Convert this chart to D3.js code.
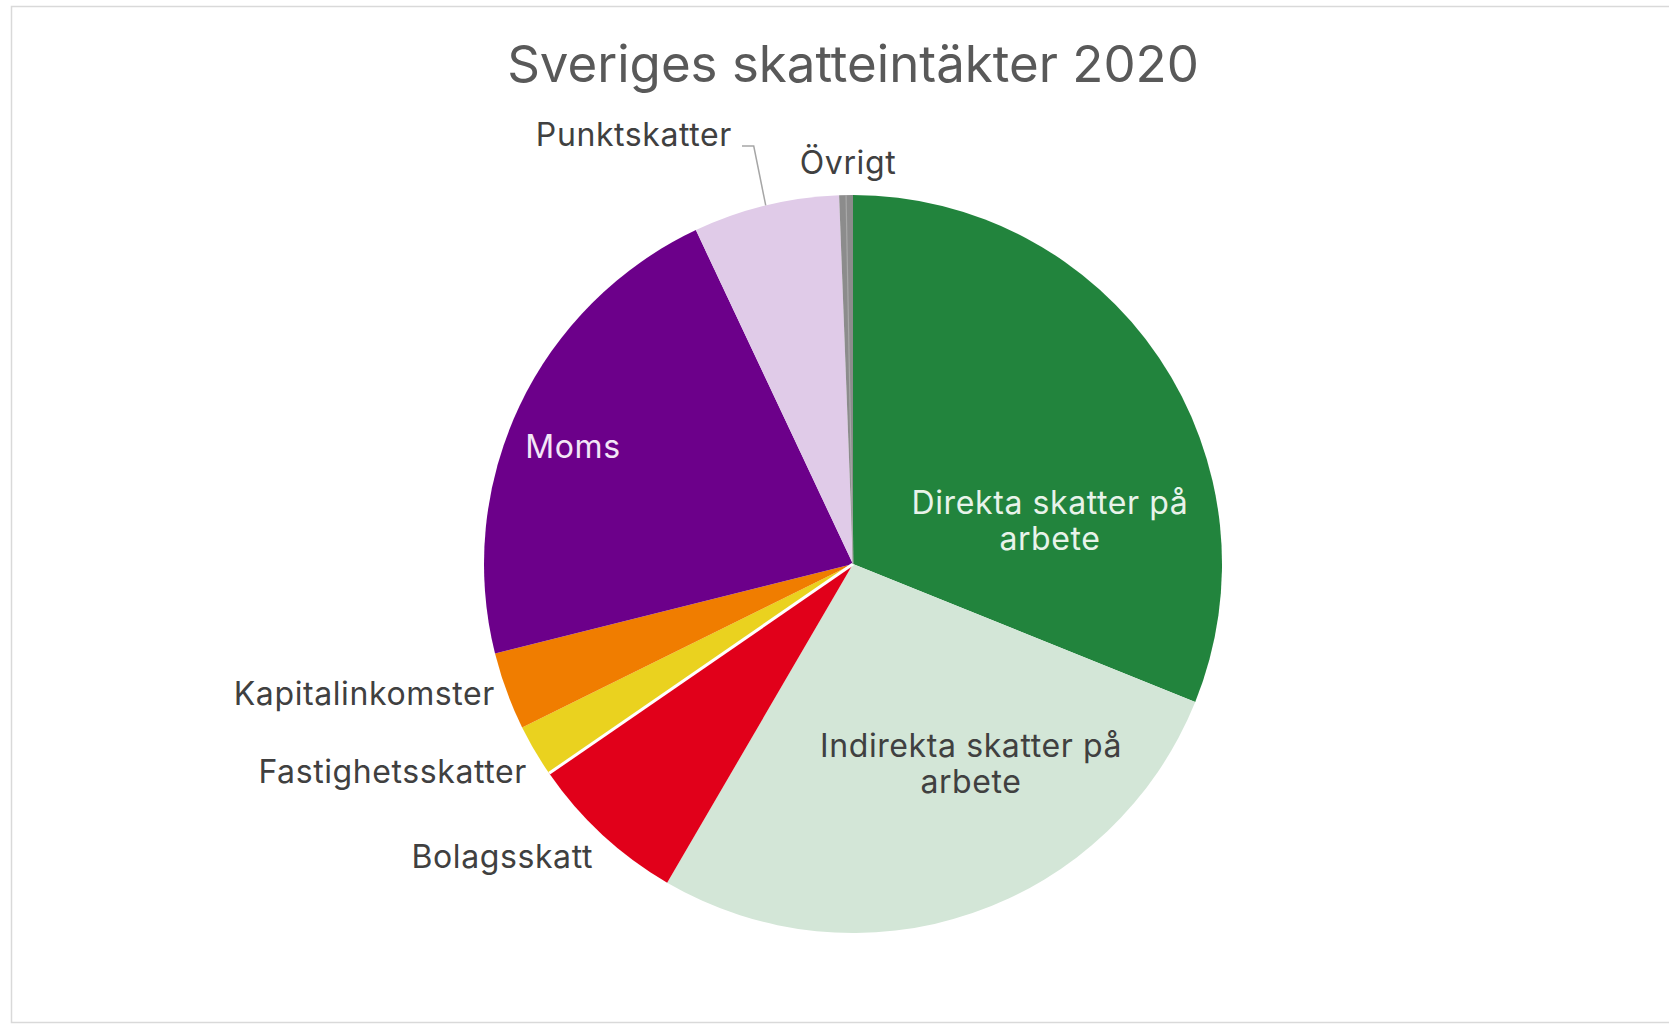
<!DOCTYPE html>
<html>

<head>
    <meta charset="utf-8">
    <script src="https://d3js.org/d3.v7.min.js"></script>
    <style>
        body { margin: 0; background: #fff; }
        text { font-family: Inter, "Noto Sans", sans-serif; }
    </style>
</head>

<body>
    <script>
        // Andel av skatteintäkterna (procent)
        let categories = ["Direkta skatter på arbete", "Indirekta skatter på arbete", "Bolagsskatt",
            "Fastighetsskatter", "Kapitalinkomster", "Moms", "Punktskatter", "Övrigt"];
        let values = [31.1, 27.3, 7.0, 2.3, 3.4, 21.9, 6.4, 0.6];
        let colors = ["#22843d", "#d3e6d7", "#e1001a", "#ead21f", "#f07d00", "#6c008a", "#e0cbe8", "#8c8c8c"];
        let labelLines = [["Direkta skatter på", "arbete"], ["Indirekta skatter på", "arbete"], ["Bolagsskatt"],
            ["Fastighetsskatter"], ["Kapitalinkomster"], ["Moms"], ["Punktskatter"], ["Övrigt"]];

        let width = 1669;
        let height = 1024;
        let cx = 853, cy = 564, radius = 369;

        // label placement relative to pie centre (text only)
        let labelLayout = [
            { dx: 197, dy: -50, anchor: "middle", fill: "#e8f3ea" },
            { dx: 118, dy: 193, anchor: "middle", fill: "#404040" },
            { dx: -260, dy: 304, anchor: "end", fill: "#404040" },
            { dx: -326, dy: 219, anchor: "end", fill: "#404040" },
            { dx: -358, dy: 141, anchor: "end", fill: "#404040" },
            { dx: -280, dy: -106, anchor: "middle", fill: "#f3e6f7" },
            { dx: -121, dy: -418, anchor: "end", fill: "#404040" },
            { dx: -5, dy: -390, anchor: "middle", fill: "#404040" }
        ];

        let svg = d3.select("body").append("svg")
            .attr("width", width)
            .attr("height", height);

        // chart frame
        svg.append("rect")
            .attr("x", 11.5).attr("y", 6.5)
            .attr("width", width + 20).attr("height", height - 8)
            .attr("fill", "none")
            .attr("stroke", "#d9d9d9")
            .attr("stroke-width", 1.5);

        svg.append("text")
            .attr("x", cx).attr("y", 82)
            .attr("text-anchor", "middle")
            .style("font-size", "51px")
            .style("fill", "#595959")
            .text("Sveriges skatteintäkter 2020");

        let data = categories.map((c, i) => ({ name: c, value: values[i], i: i }));
        let pie = d3.pie().sort(null).value(d => d.value);
        let arcs = pie(data);
        let arc = d3.arc().innerRadius(0).outerRadius(radius);

        let g = svg.append("g").attr("transform", `translate(${cx},${cy})`);

        g.selectAll("path.slice")
            .data(arcs)
            .join("path")
            .attr("class", "slice")
            .attr("d", arc)
            .attr("fill", d => colors[d.data.i]);

        // white separation between Bolagsskatt and Fastighetsskatter
        let sepAngle = arcs[2].endAngle;
        g.append("line")
            .attr("x1", 0).attr("y1", 0)
            .attr("x2", radius * Math.sin(sepAngle))
            .attr("y2", -radius * Math.cos(sepAngle))
            .attr("stroke", "#fff")
            .attr("stroke-width", 3);

        // light edge inside Övrigt
        let ov = arcs[7];
        let ovMid = (ov.startAngle + ov.endAngle) / 2;
        g.append("line")
            .attr("x1", 0).attr("y1", 0)
            .attr("x2", radius * Math.sin(ovMid))
            .attr("y2", -radius * Math.cos(ovMid))
            .attr("stroke", "#a8a8a8")
            .attr("stroke-width", 1.2);

        // leader line for Punktskatter
        let pk = arcs[6];
        let pkMid = (pk.startAngle + pk.endAngle) / 2;
        let ex = radius * Math.sin(pkMid), ey = -radius * Math.cos(pkMid);
        g.append("polyline")
            .attr("points", [[labelLayout[6].dx + 10, labelLayout[6].dy], [ex - 12, labelLayout[6].dy], [ex, ey]].map(p => p.join(",")).join(" "))
            .attr("fill", "none")
            .attr("stroke", "#a6a6a6")
            .attr("stroke-width", 1.5);

        let labels = g.selectAll("text.lbl")
            .data(arcs)
            .join("text")
            .attr("class", "lbl")
            .attr("text-anchor", d => labelLayout[d.data.i].anchor)
            .style("font-size", "32px")
            .style("letter-spacing", "0.6px")
            .style("fill", d => labelLayout[d.data.i].fill);

        labels.selectAll("tspan")
            .data(d => labelLines[d.data.i].map(t => ({ t: t, i: d.data.i })))
            .join("tspan")
            .attr("x", d => labelLayout[d.i].dx)
            .attr("y", (d, j) => labelLayout[d.i].dy + j * 36)
            .text(d => d.t);
    </script>
</body>

</html>
